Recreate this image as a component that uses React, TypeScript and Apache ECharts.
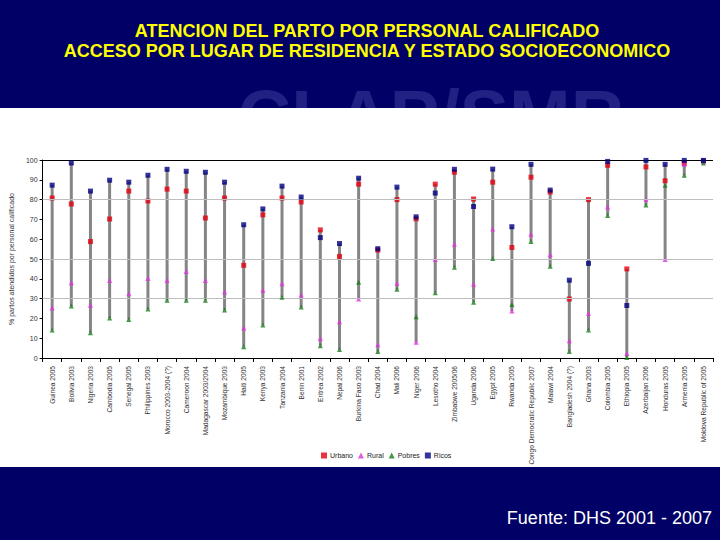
import React, { useEffect, useRef } from "react";
import * as echarts from "echarts";

const categories = [
  "Guinea 2005", "Bolivia 2003", "Nigeria 2003", "Cambodia 2005", "Senegal 2005",
  "Philippines 2003", "Morocco 2003-2004 (?)", "Cameroon 2004", "Madagascar 2003/2004",
  "Mozambique 2003", "Haiti 2005", "Kenya 2003", "Tanzania 2004", "Benin 2001",
  "Eritrea 2002", "Nepal 2006", "Burkina Faso 2003", "Chad 2004", "Mali 2006",
  "Niger 2006", "Lesotho 2004", "Zimbabwe 2005/06", "Uganda 2006", "Egypt 2005",
  "Rwanda 2005", "Congo Democratic Republic 2007", "Malawi 2004", "Bangladesh 2004 (?)",
  "Ghana 2003", "Colombia 2005", "Ethiopia 2005", "Azerbaijan 2006", "Honduras 2005",
  "Armenia 2005", "Moldova Republic of 2005",
];

const urbano = [80.8, 77.8, 58.8, 70.2, 84.3, 79.3, 85.3, 84.3, 70.7, 80.8, 46.8, 72.3, 80.8, 78.8, 64.7, 51.3, 87.8, 54.5, 80, 70.3, 87.8, 93.8, 80.3, 88.8, 55.8, 91.3, 83.8, 29.8, 80, 97.3, 45, 96.5, 89.5, 98.3, 99.5];
const rural = [25.2, 38, 26.7, 39.2, 32.5, 40.2, 39.2, 43.7, 39.2, 33.3, 15.2, 34.2, 37.5, 31.8, 9.8, 18.3, 29.8, 6.7, 37.7, 8, 49.7, 57.5, 37.2, 65.2, 23.7, 62.5, 52.2, 8.7, 22.5, 76.2, 2.3, 80.2, 49.7, 97.8, 99.3];
const pobres = [14.2, 26.2, 12.8, 20.2, 19.5, 24.7, 29.2, 29.2, 29.2, 24.2, 5.7, 16.7, 30.7, 25.7, 6.2, 4.3, 38.3, 3.3, 34.7, 20.8, 33, 45.8, 28.2, 50.2, 27, 58.8, 46.3, 3.3, 14.2, 72, 0.3, 77.3, 87.3, 92.3, 98.5];
const ricos = [87.3, 98.5, 84.3, 89.8, 88.8, 92.3, 95.3, 94.3, 93.8, 88.8, 67.3, 75.3, 86.8, 81.3, 60.8, 57.8, 90.8, 55.2, 86.3, 71.3, 83.3, 95.3, 76.5, 95.4, 66.3, 97.8, 84.8, 39.3, 47.8, 99.3, 26.5, 99.8, 97.8, 99.8, 99.8];

const yTicks = [0, 10, 20, 30, 40, 50, 60, 70, 80, 90, 100];
const gridValues = [30, 50, 80];

const FONT = "'Liberation Sans', Arial, sans-serif";

export default function App() {
  const ref = useRef<HTMLDivElement>(null);

  useEffect(() => {
    document.body.style.margin = "0";
    const chart = echarts.init(ref.current!, null, { renderer: "svg" });

    const ranges = categories.map((_, i) => {
      const vals = [urbano[i], rural[i], pobres[i], ricos[i]];
      return [i, Math.min(...vals), Math.max(...vals)];
    });

    const symbolSize = 5;

    chart.setOption({
      animation: false,
      backgroundColor: "#000066",
      textStyle: { fontFamily: FONT },
      graphic: [
        {
          type: "text",
          z: 0,
          z2: 0,
          style: {
            text: "CLAP/SMR",
            x: 431,
            y: 116,
            align: "center",
            verticalAlign: "middle",
            fill: "#212184",
            font: `bold 74px ${FONT}`,
          },
        },
        {
          type: "rect",
          z: 0,
          z2: 1,
          shape: { x: 0, y: 108, width: 720, height: 359 },
          style: { fill: "#ffffff" },
        },
        {
          type: "text",
          z: 1,
          style: {
            text: "ATENCION DEL PARTO POR PERSONAL CALIFICADO",
            x: 367,
            y: 31,
            align: "center",
            verticalAlign: "middle",
            fill: "#ffff00",
            font: `bold 18px ${FONT}`,
          },
        },
        {
          type: "text",
          z: 1,
          style: {
            text: "ACCESO POR LUGAR DE RESIDENCIA Y ESTADO SOCIOECONOMICO",
            x: 367,
            y: 51,
            align: "center",
            verticalAlign: "middle",
            fill: "#ffff00",
            font: `bold 18px ${FONT}`,
          },
        },
        {
          type: "text",
          z: 1,
          style: {
            text: "Fuente: DHS 2001 - 2007",
            x: 712,
            y: 518,
            align: "right",
            verticalAlign: "middle",
            fill: "#ffffff",
            font: `18px ${FONT}`,
          },
        },
      ],
      grid: { left: 37, right: 7, top: 160, bottom: 182, containLabel: false },
      legend: {
        data: [
          { name: "Urbano", icon: "rect" },
          { name: "Rural", icon: "triangle" },
          { name: "Pobres", icon: "triangle" },
          { name: "Ricos", icon: "rect" },
        ],
        left: 316,
        top: 447,
        itemWidth: 6,
        itemHeight: 6,
        itemGap: 5,
        textStyle: { fontSize: 7, color: "#222", fontFamily: FONT, padding: [0, 0, 0, -2] },
      },
      xAxis: {
        type: "category",
        data: categories,
        boundaryGap: true,
        axisLine: { lineStyle: { color: "#000", width: 1 } },
        axisTick: { show: true, length: 4, inside: false, lineStyle: { color: "#000" } },
        axisLabel: {
          rotate: 90,
          interval: 0,
          fontSize: 6.6,
          color: "#333",
          margin: 8,
          fontFamily: FONT,
        },
        splitLine: { show: false },
      },
      yAxis: {
        type: "value",
        min: 0,
        max: 100,
        interval: 10,
        name: "% partos atendidos por personal calificado",
        nameLocation: "middle",
        nameGap: 24,
        nameTextStyle: { fontSize: 7, color: "#333", fontFamily: FONT },
        axisLine: { show: true, lineStyle: { color: "#000", width: 1 } },
        axisTick: { show: true, length: 3, lineStyle: { color: "#000" } },
        axisLabel: {
          fontSize: 7,
          color: "#333",
          margin: 5,
          fontFamily: FONT,
          formatter: (v: number) => (yTicks.includes(v) ? String(v) : ""),
        },
        splitLine: { show: false },
      },
      series: [
        {
          type: "custom",
          name: "rango",
          silent: true,
          z: 1,
          encode: { x: 0, y: [1, 2] },
          data: ranges,
          renderItem: (params: any, api: any) => {
            const x = api.value(0);
            const p1 = api.coord([x, api.value(1)]);
            const p2 = api.coord([x, api.value(2)]);
            return {
              type: "line",
              shape: { x1: p1[0], y1: p1[1], x2: p2[0], y2: p2[1] },
              style: { stroke: "#858585", lineWidth: 3 },
            };
          },
          markLine: {
            silent: true,
            symbol: "none",
            label: { show: false },
            data: [
              ...gridValues.map((v) => ({ yAxis: v, lineStyle: { color: "#bdbdbd", width: 1, type: "solid" } })),
              { yAxis: 100, lineStyle: { color: "#000", width: 1.2, type: "solid" } },
            ],
          },
        },
        {
          type: "scatter",
          name: "Urbano",
          data: urbano,
          symbol: "rect",
          symbolSize,
          itemStyle: { color: "#e3000f" },
          z: 3,
        },
        {
          type: "scatter",
          name: "Rural",
          data: rural,
          symbol: "triangle",
          symbolSize,
          itemStyle: { color: "#dd33dd" },
          z: 4,
        },
        {
          type: "scatter",
          name: "Pobres",
          data: pobres,
          symbol: "triangle",
          symbolSize,
          itemStyle: { color: "#1a7a1a" },
          z: 5,
        },
        {
          type: "scatter",
          name: "Ricos",
          data: ricos,
          symbol: "rect",
          symbolSize,
          itemStyle: { color: "#000080" },
          z: 6,
        },
      ],
    });

    return () => chart.dispose();
  }, []);

  return (
    <div
      ref={ref}
      style={{ position: "fixed", left: 0, top: 0, width: 720, height: 540 }}
    />
  );
}
